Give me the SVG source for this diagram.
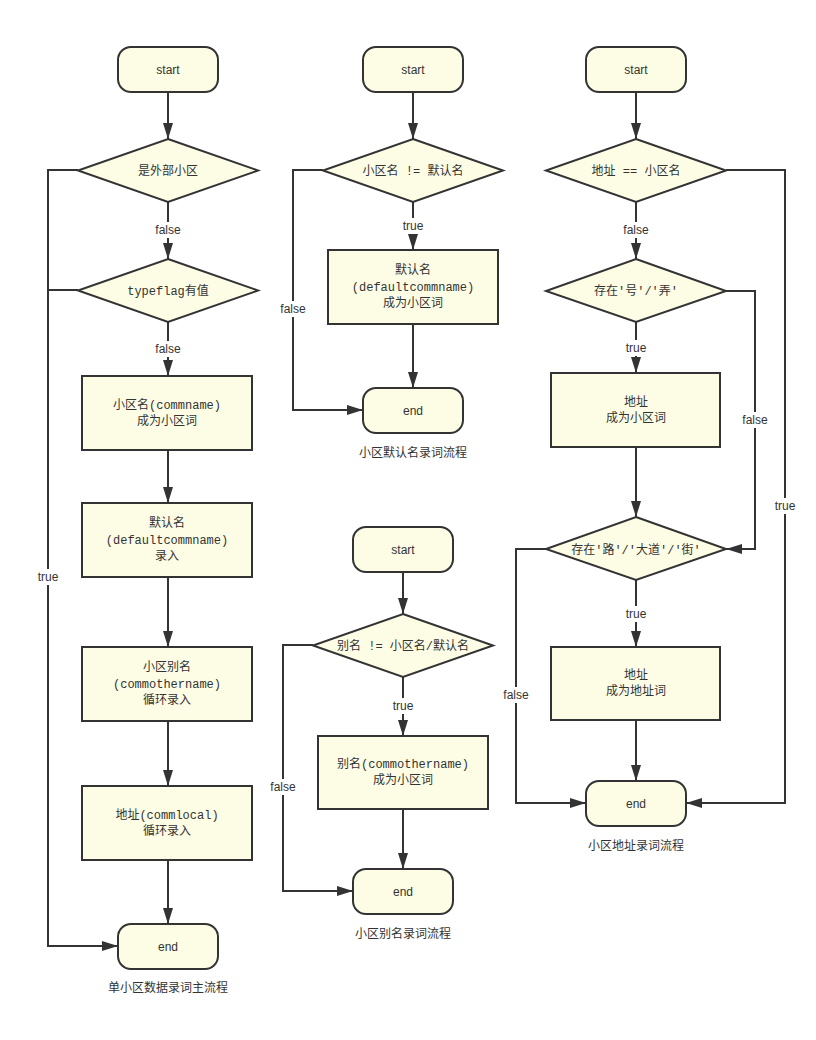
<svg xmlns="http://www.w3.org/2000/svg" width="816" height="1040" viewBox="0 0 816 1040">
<style>
.n{fill:#fdfde6;stroke:#333;stroke-width:2}
.c{fill:none;stroke:#333;stroke-width:2}
.t{font-family:"Liberation Mono","Noto Sans CJK SC",monospace;font-size:12px;fill:#333;text-anchor:middle}
.s{font-family:"Liberation Sans",Arial,sans-serif;font-size:12px;fill:#333;text-anchor:middle}
.l{font-family:"Liberation Sans",Arial,sans-serif;font-size:12px;fill:#333;text-anchor:middle}
.lb{fill:#fff}
.cap{font-family:"Noto Sans CJK SC",sans-serif;font-size:12px;fill:#333;text-anchor:middle}
</style>
<defs>
<marker id="a" viewBox="0 0 16 10" refX="16" refY="5" markerWidth="16" markerHeight="10" markerUnits="userSpaceOnUse" orient="auto">
<path d="M0,0 L16,5 L0,10 Z" fill="#333"/>
</marker>
</defs>
<rect width="816" height="1040" fill="#fff"/>
<g id="connectors">
<!-- col1 -->
<path class="c" d="M168,92 V139" marker-end="url(#a)"/>
<path class="c" d="M168,202 V259" marker-end="url(#a)"/>
<path class="c" d="M168,322 V376" marker-end="url(#a)"/>
<path class="c" d="M168,450 V503" marker-end="url(#a)"/>
<path class="c" d="M168,577 V647" marker-end="url(#a)"/>
<path class="c" d="M168,721 V786" marker-end="url(#a)"/>
<path class="c" d="M168,860 V924" marker-end="url(#a)"/>
<path class="c" d="M78,170 H48 V946 H118" marker-end="url(#a)"/>
<path class="c" d="M78,290 H48"/>
<!-- col2 top -->
<path class="c" d="M413,92 V139" marker-end="url(#a)"/>
<path class="c" d="M413,202 V250" marker-end="url(#a)"/>
<path class="c" d="M413,324 V388" marker-end="url(#a)"/>
<path class="c" d="M323,170 H293 V410 H363" marker-end="url(#a)"/>
<!-- col2 bottom -->
<path class="c" d="M403,572 V614" marker-end="url(#a)"/>
<path class="c" d="M403,677 V736" marker-end="url(#a)"/>
<path class="c" d="M403,809 V869" marker-end="url(#a)"/>
<path class="c" d="M313,645 H283 V891 H353" marker-end="url(#a)"/>
<!-- col3 -->
<path class="c" d="M636,92 V139" marker-end="url(#a)"/>
<path class="c" d="M636,202 V259" marker-end="url(#a)"/>
<path class="c" d="M636,322 V373" marker-end="url(#a)"/>
<path class="c" d="M636,447 V517" marker-end="url(#a)"/>
<path class="c" d="M636,580 V647" marker-end="url(#a)"/>
<path class="c" d="M636,720 V781" marker-end="url(#a)"/>
<path class="c" d="M726,170 H785 V803 H686" marker-end="url(#a)"/>
<path class="c" d="M726,291 H755 V549 H726" marker-end="url(#a)"/>
<path class="c" d="M546,549 H516 V803 H586" marker-end="url(#a)"/>
<!-- labels -->
<g>
<rect class="lb" x="150" y="222" width="36" height="16"/><text class="l" x="168" y="234">false</text>
<rect class="lb" x="150" y="341" width="36" height="16"/><text class="l" x="168" y="353">false</text>
<rect class="lb" x="34" y="569" width="28" height="16"/><text class="l" x="48" y="581">true</text>
<rect class="lb" x="399" y="218" width="28" height="16"/><text class="l" x="413" y="230">true</text>
<rect class="lb" x="275" y="301" width="36" height="16"/><text class="l" x="293" y="313">false</text>
<rect class="lb" x="389" y="698" width="28" height="16"/><text class="l" x="403" y="710">true</text>
<rect class="lb" x="265" y="779" width="36" height="16"/><text class="l" x="283" y="791">false</text>
<rect class="lb" x="618" y="222" width="36" height="16"/><text class="l" x="636" y="234">false</text>
<rect class="lb" x="622" y="340" width="28" height="16"/><text class="l" x="636" y="352">true</text>
<rect class="lb" x="737" y="412" width="36" height="16"/><text class="l" x="755" y="424">false</text>
<rect class="lb" x="771" y="498" width="28" height="16"/><text class="l" x="785" y="510">true</text>
<rect class="lb" x="622" y="606" width="28" height="16"/><text class="l" x="636" y="618">true</text>
<rect class="lb" x="498" y="687" width="36" height="16"/><text class="l" x="516" y="699">false</text>
</g>
</g>
<!-- column 1 -->
<g id="c1-start"><rect class="n" x="118" y="47" width="100" height="45" rx="13"/><text class="s" x="168" y="74">start</text></g>
<g id="c1-d1"><polygon class="n" points="168,139 258,170.5 168,202 78,170.5"/><text class="t" x="168" y="175">是外部小区</text></g>
<g id="c1-d2"><polygon class="n" points="168,259 258,290.5 168,322 78,290.5"/><text class="t" x="168" y="295">typeflag有值</text></g>
<g id="c1-r1"><rect class="n" x="82" y="376" width="170" height="74"/><text class="t" x="167" y="409">小区名(commname)</text><text class="t" x="167" y="425">成为小区词</text></g>
<g id="c1-r2"><rect class="n" x="82" y="503" width="170" height="74"/><text class="t" x="167" y="527">默认名</text><text class="t" x="167" y="544">(defaultcommname)</text><text class="t" x="167" y="560">录入</text></g>
<g id="c1-r3"><rect class="n" x="82" y="647" width="170" height="74"/><text class="t" x="167" y="671">小区别名</text><text class="t" x="167" y="688">(commothername)</text><text class="t" x="167" y="704">循环录入</text></g>
<g id="c1-r4"><rect class="n" x="82" y="786" width="170" height="74"/><text class="t" x="167" y="819">地址(commlocal)</text><text class="t" x="167" y="835">循环录入</text></g>
<g id="c1-end"><rect class="n" x="118" y="924" width="100" height="45" rx="13"/><text class="s" x="168" y="951">end</text></g>
<text class="cap" x="168" y="992">单小区数据录词主流程</text>
<!-- column 2 top -->
<g id="c2-start"><rect class="n" x="363" y="47" width="100" height="45" rx="13"/><text class="s" x="413" y="74">start</text></g>
<g id="c2-d1"><polygon class="n" points="413,139 503,170.5 413,202 323,170.5"/><text class="t" x="413" y="175">小区名 != 默认名</text></g>
<g id="c2-r1"><rect class="n" x="328" y="250" width="170" height="74"/><text class="t" x="413" y="274">默认名</text><text class="t" x="413" y="291">(defaultcommname)</text><text class="t" x="413" y="307">成为小区词</text></g>
<g id="c2-end"><rect class="n" x="363" y="388" width="100" height="45" rx="13"/><text class="s" x="413" y="415">end</text></g>
<text class="cap" x="413" y="457">小区默认名录词流程</text>
<!-- column 2 bottom -->
<g id="c2b-start"><rect class="n" x="353" y="527" width="100" height="45" rx="13"/><text class="s" x="403" y="554">start</text></g>
<g id="c2b-d1"><polygon class="n" points="403,614 493,645.5 403,677 313,645.5"/><text class="t" x="403" y="650">别名 != 小区名/默认名</text></g>
<g id="c2b-r1"><rect class="n" x="318" y="736" width="170" height="73"/><text class="t" x="403" y="768">别名(commothername)</text><text class="t" x="403" y="784">成为小区词</text></g>
<g id="c2b-end"><rect class="n" x="353" y="869" width="100" height="45" rx="13"/><text class="s" x="403" y="896">end</text></g>
<text class="cap" x="403" y="938">小区别名录词流程</text>
<!-- column 3 -->
<g id="c3-start"><rect class="n" x="586" y="47" width="100" height="45" rx="13"/><text class="s" x="636" y="74">start</text></g>
<g id="c3-d1"><polygon class="n" points="636,139 726,170.5 636,202 546,170.5"/><text class="t" x="636" y="175">地址 == 小区名</text></g>
<g id="c3-d2"><polygon class="n" points="636,259 726,291 636,322 546,291"/><text class="t" x="636" y="295">存在'号'/'弄'</text></g>
<g id="c3-r1"><rect class="n" x="551" y="373" width="169" height="74"/><text class="t" x="636" y="406">地址</text><text class="t" x="636" y="422">成为小区词</text></g>
<g id="c3-d3"><polygon class="n" points="636,517 726,549 636,580 546,549"/><text class="t" x="636" y="554">存在'路'/'大道'/'街'</text></g>
<g id="c3-r2"><rect class="n" x="551" y="647" width="169" height="73"/><text class="t" x="636" y="679">地址</text><text class="t" x="636" y="695">成为地址词</text></g>
<g id="c3-end"><rect class="n" x="586" y="781" width="100" height="45" rx="13"/><text class="s" x="636" y="808">end</text></g>
<text class="cap" x="636" y="850">小区地址录词流程</text>
</svg>
